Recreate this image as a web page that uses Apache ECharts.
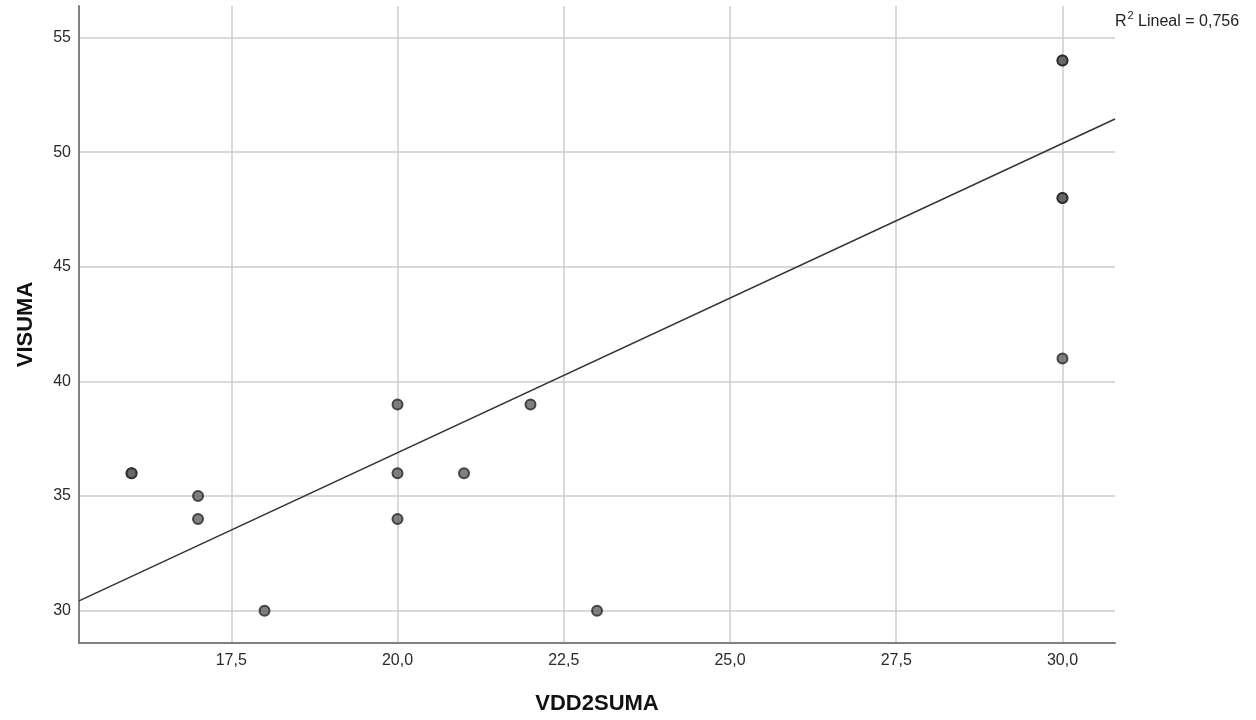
<!DOCTYPE html>
<html><head><meta charset="utf-8">
<script src="https://cdn.jsdelivr.net/npm/echarts@6/dist/echarts.min.js"></script>
<style>html,body{margin:0;padding:0;background:#fff}#c{width:1256px;height:720px}</style>
</head><body><div id="c"></div>
<script>
// Data
const vdd2suma = [16, 16, 17, 17, 18, 20, 20, 20, 21, 22, 23, 30, 30, 30, 30, 30];
const visuma   = [36, 36, 35, 34, 30, 39, 36, 34, 36, 39, 30, 54, 54, 48, 48, 41];
const xTicks = [17.5, 20, 22.5, 25, 27.5, 30];
const yTicks = [30, 35, 40, 45, 50, 55];
const xRange = [15.21, 30.79];
const yRange = [28.59, 56.38];
const fitIntercept = 9.90;
const fitSlope = 1.3495;
const rSquaredText = '0,756';
const xName = 'VDD2SUMA';
const yName = 'VISUMA';

const FONT = '"Liberation Sans", Arial, sans-serif';
const points = vdd2suma.map((x, i) => [x, visuma[i]]);
const fitLine = xRange.map(x => [x, fitIntercept + fitSlope * x]);

const chart = echarts.init(document.getElementById('c'));
chart.setOption({
  animation: false,
  backgroundColor: '#ffffff',
  textStyle: { fontFamily: FONT },
  grid: { left: 79, right: 141, top: 6, bottom: 76, containLabel: false },
  xAxis: {
    type: 'value',
    min: xRange[0], max: xRange[1],
    name: xName, nameLocation: 'middle', nameGap: 50,
    nameTextStyle: { fontFamily: FONT, fontSize: 22, fontWeight: 'bold', color: '#111' },
    axisLine: { show: true, lineStyle: { color: '#808080', width: 2 } },
    axisTick: { show: false, customValues: xTicks },
    axisLabel: {
      customValues: xTicks, fontSize: 16, color: '#2a2a2a', margin: 10, fontFamily: FONT,
      formatter: v => v.toFixed(1).replace('.', ',')
    },
    splitLine: { show: true, lineStyle: { color: '#cccccc', width: 1.5 } }
  },
  yAxis: {
    type: 'value',
    min: yRange[0], max: yRange[1],
    name: yName, nameLocation: 'middle', nameGap: 42, nameRotate: 90,
    nameTextStyle: { fontFamily: FONT, fontSize: 22, fontWeight: 'bold', color: '#111' },
    axisLine: { show: true, lineStyle: { color: '#808080', width: 2 } },
    axisTick: { show: false, customValues: yTicks },
    axisLabel: { customValues: yTicks, fontSize: 16, color: '#2a2a2a', margin: 8, fontFamily: FONT },
    splitLine: { show: true, lineStyle: { color: '#cccccc', width: 1.5 } }
  },
  graphic: [{
    type: 'text', left: 1115, top: 10,
    style: {
      text: '{b|R}{s|2}{b| Lineal = ' + rSquaredText + '}',
      rich: {
        b: { fontSize: 16, fontFamily: FONT, fill: '#222', verticalAlign: 'bottom', lineHeight: 20 },
        s: { fontSize: 11, fontFamily: FONT, fill: '#222', verticalAlign: 'top', lineHeight: 20, padding: [0, 0, 8, 1] }
      }
    }
  }],
  series: [
    {
      type: 'line', data: fitLine, symbol: 'none', silent: true,
      lineStyle: { color: '#333333', width: 1.5 }, z: 3
    },
    {
      type: 'scatter', data: points, symbolSize: 10,
      itemStyle: { color: '#606060', borderColor: '#262626', borderWidth: 2 }, z: 4
    }
  ]
});
</script></body></html>
